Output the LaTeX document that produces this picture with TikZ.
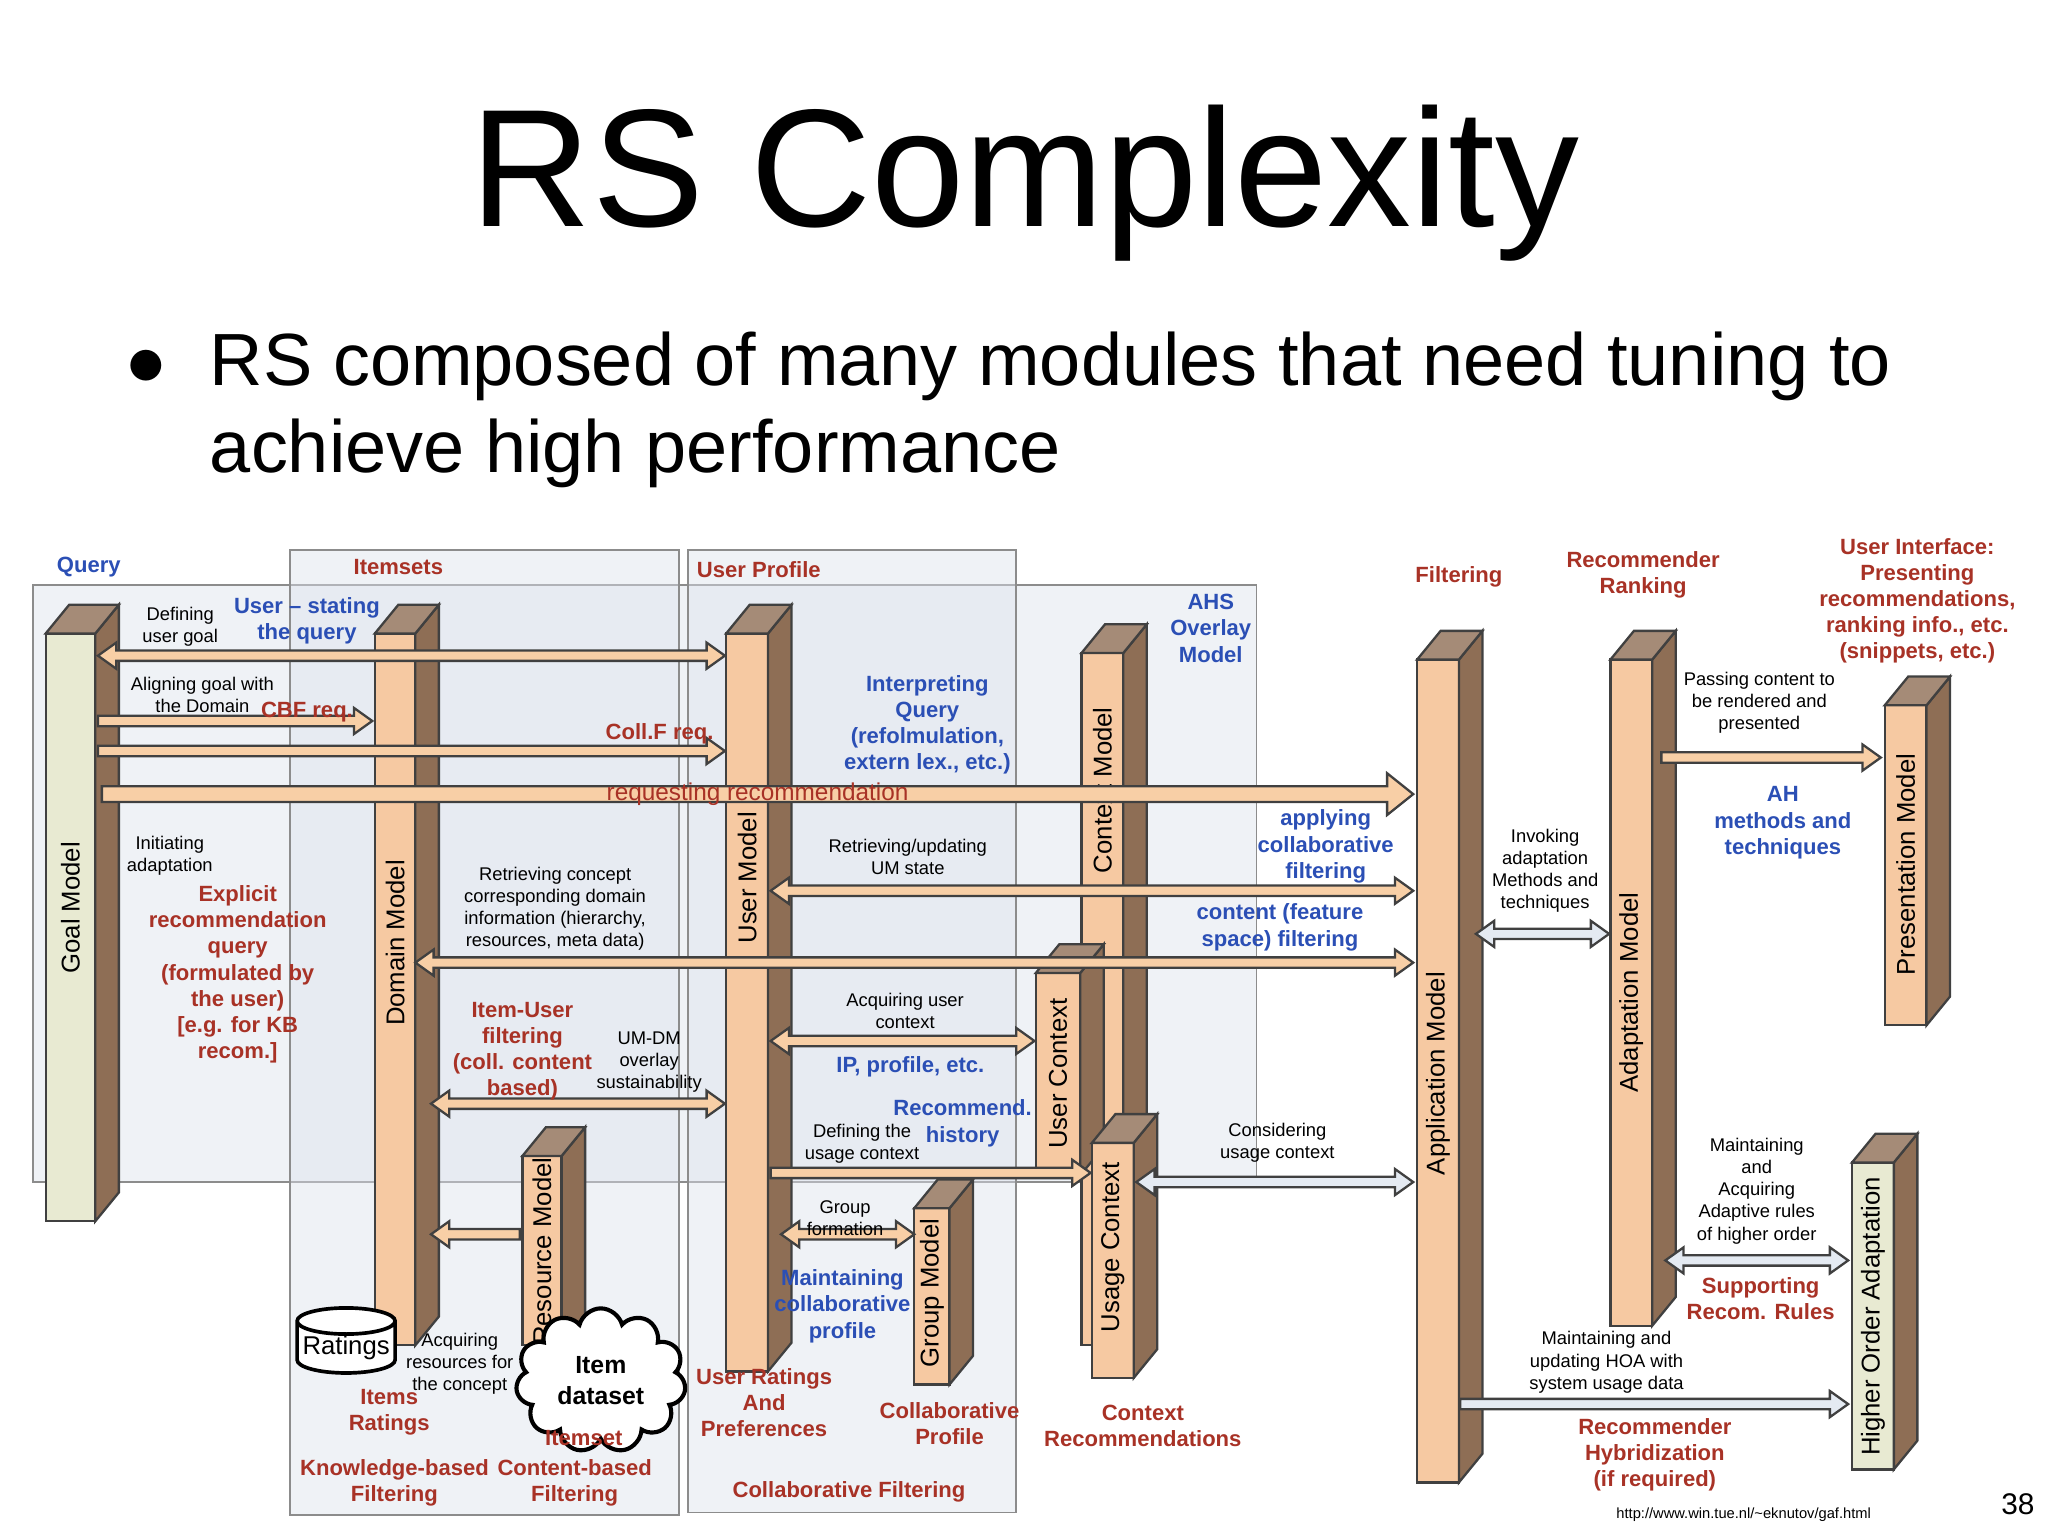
\documentclass[tikz,border=0pt]{standalone}
\usepackage{fontspec}
\setmainfont{Liberation Sans}
\usetikzlibrary{shapes.geometric,shapes.symbols}
\definecolor{rsred}{HTML}{A83226}
\definecolor{rsblue}{HTML}{2B4FB5}
\definecolor{tan}{HTML}{F6C9A2}
\definecolor{sidec}{HTML}{8E6E55}
\definecolor{greenb}{HTML}{E8EAD2}
\definecolor{panel}{HTML}{DCE2EC}
\definecolor{arrf}{HTML}{F8CFA6}
\definecolor{arrb}{HTML}{E4EAF2}
\tikzset{
  blk/.style={align=center,inner sep=0pt,font=\fontsize{4}{4.8}\selectfont},
  red/.style={align=center,inner sep=0pt,text=rsred,font=\bfseries\fontsize{4.8}{5.7}\selectfont},
  blu/.style={align=center,inner sep=0pt,text=rsblue,font=\bfseries\fontsize{4.8}{5.7}\selectfont},
  vlab/.style={rotate=90,inner sep=0pt,font=\fontsize{5.6}{6}\selectfont},
  pan/.style={draw=black!45,fill=panel,fill opacity=0.45,line width=0.4pt},
  arr/.style={draw=black!75,line width=0.5pt,line join=miter}
}
% pillar: name, x, top y, width, bottom y, label, fill, label y
\newcommand\pillar[8]{%
  \draw[black!75,line width=0.5pt,fill=#7] (#2,#3) rectangle ({#2+#4},#5);
  \draw[black!75,line width=0.5pt,fill=sidec] ({#2+#4},#3) -- ({#2+#4+18},{#3-22}) -- ({#2+#4+18},{#5-22}) -- ({#2+#4},#5) -- cycle;
  \draw[black!75,line width=0.5pt,fill=sidec!80] (#2,#3) -- ({#2+18},{#3-22}) -- ({#2+#4+18},{#3-22}) -- ({#2+#4},#3) -- cycle;
  \node[vlab] (#1) at ({#2+#4/2},#8) {#6};}
\newcommand\rarr[4]{\draw[arr,fill=#1] (#2,{#4-4}) -- ({#3-14},{#4-4}) -- ({#3-14},{#4-10}) -- (#3,#4) -- ({#3-14},{#4+10}) -- ({#3-14},{#4+4}) -- (#2,{#4+4}) -- cycle;}
\newcommand\larr[4]{\draw[arr,fill=#1] (#2,#4) -- ({#2+14},{#4-10}) -- ({#2+14},{#4-4}) -- (#3,{#4-4}) -- (#3,{#4+4}) -- ({#2+14},{#4+4}) -- ({#2+14},{#4+10}) -- cycle;}
\newcommand\darr[4]{\draw[arr,fill=#1] (#2,#4) -- ({#2+14},{#4-10}) -- ({#2+14},{#4-4}) -- ({#3-14},{#4-4}) -- ({#3-14},{#4-10}) -- (#3,#4) -- ({#3-14},{#4+10}) -- ({#3-14},{#4+4}) -- ({#2+14},{#4+4}) -- ({#2+14},{#4+10}) -- cycle;}
\begin{document}
\begin{tikzpicture}[x=0.01cm,y=-0.01cm]
\useasboundingbox (0,0) rectangle (1568,1176);
\node[font=\fontsize{36.5}{40}\selectfont] (title) at (785,140) {RS Complexity};
\node[font=\fontsize{16.1}{19}\selectfont] (bul) at (112,282) {$\bullet$};
\node[anchor=west,align=left,inner sep=0pt,font=\fontsize{16.1}{19}\selectfont] (btxt) at (160,314)
  {RS composed of many modules that need tuning to\\achieve high performance};
% panels
\draw[pan] (25,448) rectangle (962,905);
\draw[pan] (222,421) rectangle (520,1160);
\draw[pan] (527,421) rectangle (778,1158);
\node[blu] (lq) at (68,434) {Query};
\node[red] (lis) at (305,434) {Itemsets};
\node[red] (lup) at (581,436) {User Profile};
% pillars
\pillar{gm}{35}{485}{38}{935}{Goal Model}{greenb}{695}
\pillar{dm}{287}{485}{31}{1030}{Domain Model}{tan}{722}
\pillar{um}{556}{485}{32}{1050}{User Model}{tan}{672}
\pillar{cm}{828}{500}{32}{1030}{Context Model}{tan}{605}
\pillar{uc}{793}{745}{34}{900}{User Context}{tan}{822}
\pillar{usc}{836}{875}{32}{1055}{Usage Context}{tan}{955}
\pillar{rm}{400}{885}{30}{1030}{Resource Model}{tan}{958}
\pillar{grm}{700}{925}{27}{1060}{Group Model}{tan}{990}
\pillar{am}{1085}{505}{32}{1135}{Application Model}{tan}{822}
\pillar{adm}{1233}{505}{32}{1015}{Adaptation Model}{tan}{760}
\pillar{pm}{1443}{540}{32}{785}{Presentation Model}{tan}{662}
\pillar{hoa}{1418}{890}{32}{1125}{Higher Order Adaptation}{greenb}{1008}
% arrows
\darr{arrf}{75}{555}{502}
\rarr{arrf}{75}{285}{552}
\rarr{arrf}{75}{555}{575}
\draw[arr,fill=arrf] (78,{608-6}) -- (1062,{608-6}) -- (1062,{608-16}) -- (1082,608) -- (1062,{608+16}) -- (1062,{608+6}) -- (78,{608+6}) -- cycle;
\darr{arrf}{590}{1082}{682}
\darr{arrf}{318}{1082}{737}
\darr{arrf}{590}{792}{797}
\darr{arrf}{330}{555}{845}
\rarr{arrf}{590}{835}{898}
\darr{arrb}{870}{1082}{905}
\larr{arrf}{330}{398}{945}
\darr{arrf}{598}{700}{945}
\darr{arrb}{1130}{1232}{715}
\rarr{arrf}{1272}{1440}{580}
\darr{arrb}{1275}{1415}{965}
\rarr{arrb}{1118}{1415}{1075}
% stores
\node[cylinder,shape border rotate=90,aspect=0.3,draw,line width=0.8pt,fill=white,minimum width=0.75cm,minimum height=0.45cm,inner sep=0pt,font=\fontsize{5.6}{6}\selectfont] (rat) at (265,1032) {Ratings};
\node[cloud,cloud puffs=11,draw,line width=0.9pt,fill=white,minimum width=1.3cm,minimum height=0.5cm,inner sep=0pt,align=center,font=\bfseries\fontsize{5.4}{6.6}\selectfont] (idat) at (460,1057) {Item\\dataset};
% texts
\node[blk] (t1) at (138,480) {Defining\\user goal};
\node[blu] (t2) at (235,475) {User -- stating\\the query};
\node[blk] (t3) at (155,532) {Aligning goal with\\the Domain};
\node[red] (t4) at (235,545) {CBF req.};
\node[red] (t5) at (505,562) {Coll.F req.};
\node[red,font=\fontsize{5.3}{6}\selectfont] (t6) at (580,608) {requesting recommendation};
\node[blu] (t7) at (710,555) {Interpreting\\Query\\(refolmulation,\\extern lex., etc.)};
\node[blu] (t8) at (927,481) {AHS\\Overlay\\Model};
\node[red] (t9) at (1117,442) {Filtering};
\node[red] (t10) at (1258,440) {Recommender\\Ranking};
\node[red] (t11) at (1468,460) {User Interface:\\Presenting\\recommendations,\\ranking info., etc.\\(snippets, etc.)};
\node[blk] (t12) at (1347,538) {Passing content to\\be rendered and\\presented};
\node[blu] (t13) at (1365,630) {AH\\methods and\\techniques};
\node[blk] (t14) at (1183,667) {Invoking\\adaptation\\Methods and\\techniques};
\node[blu] (t15) at (1015,648) {applying\\collaborative\\filtering};
\node[blu] (t16) at (980,710) {content (feature\\space) filtering};
\node[blk] (t17) at (695,656) {Retrieving/updating\\UM state};
\node[blk] (t18) at (425,696) {Retrieving concept\\corresponding domain\\information (hierarchy,\\resources, meta data)};
\node[blk] (t19) at (130,655) {Initiating\\adaptation};
\node[red] (t20) at (182,746) {Explicit\\recommendation\\query\\(formulated by\\the user)\\{[e.g. for KB}\\recom.]};
\node[red] (t21) at (400,805) {Item-User\\filtering\\(coll. content\\based)};
\node[blk] (t22) at (497,813) {UM-DM\\overlay\\sustainability};
\node[blk] (t23) at (693,774) {Acquiring user\\context};
\node[blu] (t24) at (697,817) {IP, profile, etc.};
\node[blu] (t25) at (737,860) {Recommend.\\history};
\node[blk] (t26) at (660,876) {Defining the\\usage context};
\node[blk] (t27) at (978,875) {Considering\\usage context};
\node[blk] (t28) at (647,933) {Group\\formation};
\node[blu] (t29) at (645,1000) {Maintaining\\collaborative\\profile};
\node[blk] (t30) at (1345,912) {Maintaining\\and\\Acquiring\\Adaptive rules\\of higher order};
\node[red] (t31) at (1348,994) {Supporting\\Recom. Rules};
\node[blk] (t32) at (1230,1043) {Maintaining and\\updating HOA with\\system usage data};
\node[red] (t33) at (1267,1114) {Recommender\\Hybridization\\(if required)};
\node[red] (t34) at (875,1092) {Context\\Recommendations};
\node[red] (t35) at (727,1090) {Collaborative\\Profile};
\node[red] (t36) at (585,1074) {User Ratings\\And\\Preferences};
\node[red] (t37) at (650,1142) {Collaborative Filtering};
\node[blk] (t38) at (352,1044) {Acquiring\\resources for\\the concept};
\node[red] (t39) at (298,1081) {Items\\Ratings};
\node[red] (t40) at (447,1101) {Itemset};
\node[red] (t41) at (302,1135) {Knowledge-based\\Filtering};
\node[red] (t42) at (440,1135) {Content-based\\Filtering};
\node[inner sep=0pt,font=\fontsize{3.2}{4}\selectfont] (url) at (1335,1160) {http://www.win.tue.nl/\textasciitilde eknutov/gaf.html};
\node[inner sep=0pt,font=\fontsize{6.5}{7}\selectfont] (pg) at (1545,1152) {38};
\end{tikzpicture}
\end{document}
